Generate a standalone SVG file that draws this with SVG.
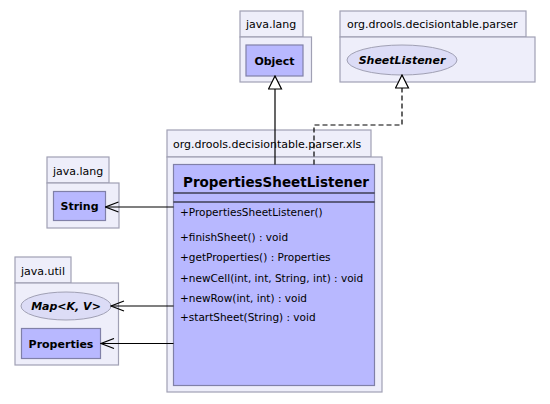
<svg xmlns="http://www.w3.org/2000/svg" width="550" height="404" viewBox="0 0 550 404">
<style>
.pkg{fill:#eeeefa;stroke:#a0a0b4;stroke-width:1.2}
.cls{fill:#b8b8ff;stroke:#8080a8;stroke-width:1.2}
.ifc{fill:#dcdcf6;stroke:#a0a0b4;stroke-width:1}
.pl{font-family:"DejaVu Sans",sans-serif;font-size:11px;fill:#000}
.cn{font-family:"DejaVu Sans",sans-serif;font-size:11px;font-weight:bold;fill:#000}
.big{font-family:"DejaVu Sans",sans-serif;font-size:14px;font-weight:bold;fill:#000}
.op{font-family:"DejaVu Sans",sans-serif;font-size:10.5px;fill:#000}
.ln{stroke:#000;stroke-width:1.2;fill:none}
</style>
<defs>
<marker id="tri" markerWidth="16" markerHeight="16" refX="15" refY="7" orient="auto" markerUnits="userSpaceOnUse" viewBox="0 0 16 16">
<path d="M15,7 L2,0.5 L2,13.5 Z" fill="#fff" stroke="#000" stroke-width="1.2"/>
</marker>
<marker id="open" markerWidth="16" markerHeight="12" refX="15" refY="6" orient="auto" markerUnits="userSpaceOnUse" viewBox="0 0 16 12">
<path d="M2,1 L15,6 L2,11" fill="none" stroke="#000" stroke-width="1.2"/>
</marker>
</defs>
<g id="pkg-java-lang-top">
<rect class="pkg" x="240" y="11" width="63" height="26"/>
<rect class="pkg" x="240" y="37" width="71.5" height="45"/>
<text class="pl" x="246" y="28">java.lang</text>
</g>
<g id="Object">
<rect class="cls" x="246" y="45" width="57" height="31"/>
<text class="cn" x="274.5" y="64.5" text-anchor="middle">Object</text>
</g>
<g id="pkg-parser">
<rect class="pkg" x="340" y="11" width="186" height="26"/>
<rect class="pkg" x="340" y="37" width="195" height="45"/>
<text class="pl" x="347" y="28">org.drools.decisiontable.parser</text>
</g>
<g id="SheetListener">
<ellipse class="ifc" cx="402" cy="60" rx="55" ry="15"/>
<text class="cn" x="402" y="64" text-anchor="middle" font-style="italic">SheetListener</text>
</g>
<g id="pkg-xls">
<rect class="pkg" x="167" y="130" width="204" height="27"/>
<rect class="pkg" x="167" y="157" width="215" height="235"/>
<text class="pl" x="173" y="148">org.drools.decisiontable.parser.xls</text>
</g>
<g id="PropertiesSheetListener">
<rect class="cls" x="173.5" y="164.5" width="201" height="221"/>
<text class="big" x="183" y="186.5" textLength="186" lengthAdjust="spacingAndGlyphs">PropertiesSheetListener</text>
<line class="ln" x1="173.5" y1="193" x2="374.5" y2="193"/>
<line class="ln" x1="173.5" y1="202" x2="374.5" y2="202"/>
<text class="op" x="180" y="216">+PropertiesSheetListener()</text>
<text class="op" x="180" y="241">+finishSheet() : void</text>
<text class="op" x="180" y="261">+getProperties() : Properties</text>
<text class="op" x="180" y="282">+newCell(int, int, String, int) : void</text>
<text class="op" x="180" y="302">+newRow(int, int) : void</text>
<text class="op" x="180" y="321">+startSheet(String) : void</text>
</g>
<g id="pkg-java-lang-left">
<rect class="pkg" x="47" y="157" width="62" height="26"/>
<rect class="pkg" x="47" y="183" width="72" height="45"/>
<text class="pl" x="53" y="175">java.lang</text>
</g>
<g id="String">
<rect class="cls" x="53.5" y="191.5" width="52" height="29"/>
<text class="cn" x="79.5" y="210" text-anchor="middle">String</text>
</g>
<g id="pkg-java-util">
<rect class="pkg" x="15" y="257" width="56" height="26"/>
<rect class="pkg" x="15" y="283" width="103.5" height="82"/>
<text class="pl" x="21" y="275">java.util</text>
</g>
<g id="Map">
<ellipse class="ifc" cx="66" cy="306" rx="45" ry="14"/>
<text class="cn" x="66" y="310" text-anchor="middle" font-style="italic">Map&lt;K, V&gt;</text>
</g>
<g id="Properties">
<rect class="cls" x="21.5" y="328.5" width="79" height="30"/>
<text class="cn" x="61" y="347.5" text-anchor="middle">Properties</text>
</g>
<g id="connectors">
<path class="ln" d="M275,164.5 L275,76" marker-end="url(#tri)"/>
<path class="ln" d="M314,164.5 L314,125 L402,125 L402,75" stroke-dasharray="5,3" marker-end="url(#tri)"/>
<path class="ln" d="M173.5,207 L105.5,207" marker-end="url(#open)"/>
<path class="ln" d="M173.5,306 L111,306" marker-end="url(#open)"/>
<path class="ln" d="M173.5,343.5 L101,343.5" marker-end="url(#open)"/>
</g>
</svg>
